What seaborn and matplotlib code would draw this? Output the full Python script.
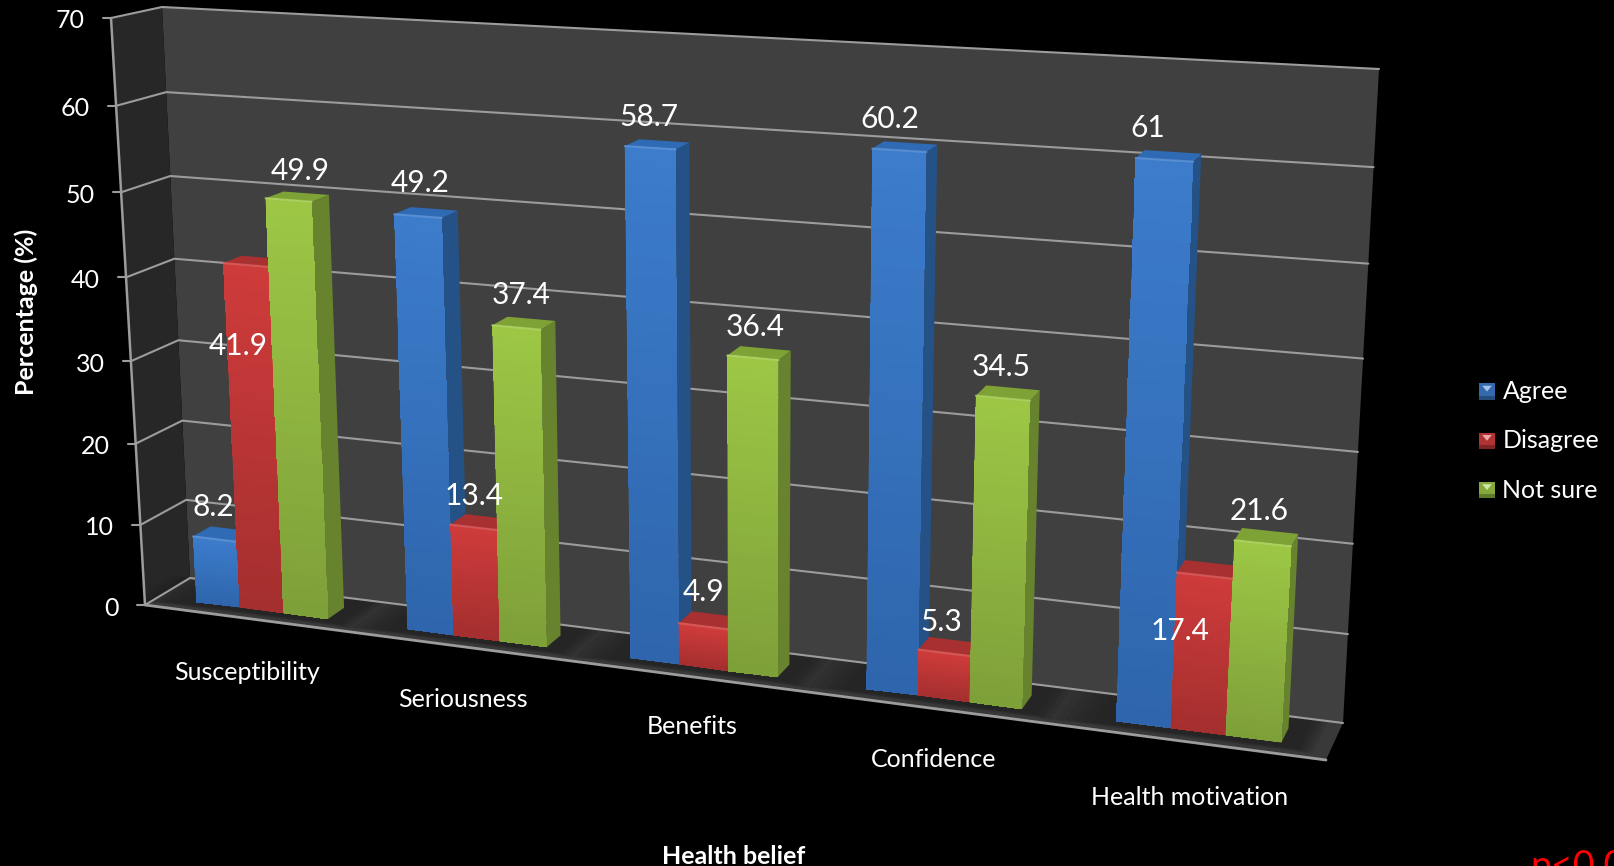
import numpy as np
import pandas as pd
import matplotlib
matplotlib.use("Agg")
import matplotlib.pyplot as plt
import seaborn as sns
from matplotlib.colors import LinearSegmentedColormap, to_rgb
from matplotlib.legend_handler import HandlerBase
from matplotlib.patches import Polygon, Rectangle
from matplotlib.transforms import IdentityTransform, Transform

# Survey results
beliefs = ["Susceptibility", "Seriousness", "Benefits", "Confidence", "Health motivation"]
responses = ["Agree", "Disagree", "Not sure"]
agree = [8.2, 49.2, 58.7, 60.2, 61]
disagree = [41.9, 13.4, 4.9, 5.3, 17.4]
not_sure = [49.9, 37.4, 36.4, 34.5, 21.6]
y_ticks = [0, 10, 20, 30, 40, 50, 60, 70]

W, H = 1614, 866
FONT = "Lato"
FS = 18

front_colors = {"Agree": ("#2E65AB", "#3C7CCC"), "Disagree": ("#A32F2E", "#CF3B3B"), "Not sure": ("#7E9F39", "#9DC745")}
side_colors = {"Agree": "#245186", "Disagree": "#8A2A28", "Not sure": "#67832E"}
top_colors = {"Agree": "#2F6AB5", "Disagree": "#A83030", "Not sure": "#7EA236"}


def homography(corners):
    """Map (u, z) in [0, 5] x [0, 70] onto the given quadrilateral (pixel coordinates)."""
    src = [(0, 0), (5, 0), (5, 70), (0, 70)]
    A, b = [], []
    for (u, z), (px, py) in zip(src, corners):
        A.append([u, z, 1, 0, 0, 0, -u * px, -z * px]); b.append(px)
        A.append([0, 0, 0, u, z, 1, -u * py, -z * py]); b.append(py)
    return np.append(np.linalg.solve(np.array(A, float), np.array(b, float)), 1).reshape(3, 3)


BACK = homography([(190, 578), (1343, 723), (1379, 69), (162, 7)])
FRONT = homography([(145, 605), (1326, 760), (1363, 88), (111, 18)])


def plane(M, u, z):
    p = M @ np.vstack([u, z, np.ones_like(u)])
    return (p[:2] / p[2]).T


def scene(u, d, z):
    """Pixel position of a chart-space point; d runs from the front (0) to the back wall (1)."""
    u, z = np.atleast_1d(u).astype(float), np.atleast_1d(z).astype(float)
    u, z = np.broadcast_arrays(u, z)
    return (1 - d) * plane(FRONT, u, z) + d * plane(BACK, u, z)


def to_display(pix):
    return np.column_stack([pix[:, 0], H - pix[:, 1]])


class SceneTransform(Transform):
    """Category/value data coordinates on a plane at fixed depth, to display space."""
    input_dims = output_dims = 2
    has_inverse = False

    def __init__(self, plane_depth):
        super().__init__()
        self.plane_depth = plane_depth

    def transform_non_affine(self, values):
        values = np.asarray(values, float)
        return to_display(scene(values[:, 0] + 0.5, self.plane_depth, values[:, 1]))


class BevelHandler(HandlerBase):
    """Legend swatch: a square with a light wedge on top and a dark band below."""

    def create_artists(self, legend, orig, x0, y0, w, h, fs, trans):
        c = np.array(orig.get_facecolor()[:3])
        s = Rectangle((x0, y0), w, h, facecolor=tuple(c * 0.85), linewidth=0, transform=trans)
        low = Rectangle((x0, y0), w, h * 0.25, facecolor=tuple(c * 0.62), linewidth=0, transform=trans)
        wedge = Polygon([(x0 + w * 0.2, y0 + h * 0.85), (x0 + w * 0.8, y0 + h * 0.85), (x0 + w * 0.5, y0 + h * 0.5)],
                        facecolor=tuple(c * 0.45 + 0.55), linewidth=0, transform=trans)
        return [s, low, wedge]


sns.set_theme(style="dark", rc={"figure.facecolor": "black", "axes.facecolor": "black"})
plt.rcParams["font.family"] = [FONT, "DejaVu Sans"]

df = pd.DataFrame({
    "belief": np.tile(beliefs, 3),
    "response": np.repeat(responses, 5),
    "pct": agree + disagree + not_sure,
})

fig = plt.figure(figsize=(W / 100, H / 100), dpi=100, facecolor="black")
ax = fig.add_axes([0, 0, 1, 1])
ID = IdentityTransform()


def poly(points, color, z=1, alpha=None):
    ax.add_patch(Polygon(to_display(np.asarray(points)), closed=True, facecolor=color, edgecolor="none",
                         transform=ID, zorder=z, alpha=alpha, clip_on=False))


def line(points, z=2, lw=1.5, color="#9C9C9C", alpha=None):
    pts = to_display(np.asarray(points))
    ax.plot(pts[:, 0], pts[:, 1], color=color, lw=lw, transform=ID, zorder=z, clip_on=False,
            solid_capstyle="round", alpha=alpha)


def quad(u0, u1, d0, d1, z0, z1):
    """Corner list helper for faces of the box."""
    return np.vstack([scene(u0, d0, z0), scene(u1, d0, z0), scene(u1, d1, z1), scene(u0, d1, z1)])


# Chart box: back wall, left wall and floor
poly(quad(0, 5, 1, 1, 0, 70), "#404040")
poly(np.vstack([scene(0, 0, 0), scene(0, 1, 0), scene(0, 1, 70), scene(0, 0, 70)]), "#272727")
poly(np.vstack([scene(0, 0, 0), scene(5, 0, 0), scene(5, 1, 0), scene(0, 1, 0)]), "#393939")

# Soft shade on the floor around each group
for i in range(5):
    for grow in np.linspace(0.22, 0.02, 7):
        poly(quad(i + 0.12 - grow, i + 0.88 + grow * 0.3, 0.2 - grow * 0.4, 1.0, 0, 0), "#101010", z=1.2, alpha=0.08)

# Gridlines on the walls and tick stubs
for v in y_ticks:
    line(np.vstack([scene(0, 0, v), scene(0, 1, v), scene(5, 1, v)]))
    fp = scene(0, 0, v)[0]
    line([fp + [-8, 0], fp])
    ax.text(*(to_display(fp[None])[0] + [-26, -3]), str(v), transform=ID, ha="right", va="center",
            color="white", fontsize=FS)
line(np.vstack([scene(0, 0, 0), scene(0, 0, 70)]), lw=1.8)
line(np.vstack([scene(0, 0, 0), scene(5, 0, 0)]), lw=2.0, z=1.5)

# Bars: seaborn lays out the front faces, each gets depth faces from its own values
D0, D1 = 0.30, 0.69
front_tf = SceneTransform(D0)
palette = {r: front_colors[r][1] for r in responses}
sns.barplot(data=df, x="belief", y="pct", hue="response", order=beliefs, hue_order=responses,
            palette=palette, width=0.63, saturation=1, linewidth=0, ax=ax, legend=True)

bars = [p for p in ax.patches if isinstance(p, Rectangle) and p.get_height() > 0]
ordered = sorted(bars, key=lambda p: p.get_x())
cols = len(responses)
for n, bar in enumerate(ordered):
    resp = responses[n % cols]
    z = 10 + n
    x0, x1, h = bar.get_x(), bar.get_x() + bar.get_width(), bar.get_height()
    u0, u1 = x0 + 0.5, x1 + 0.5
    bar.set_transform(front_tf)
    bar.set_zorder(z + 0.5)
    bar.set_clip_on(False)
    # side and top faces
    poly(np.vstack([scene(u1, D0, 0), scene(u1, D1, 0), scene(u1, D1, h), scene(u1, D0, h)]),
         side_colors[resp], z=z + 0.2)
    poly(np.vstack([scene(u0, D0, h), scene(u1, D0, h), scene(u1, D1, h), scene(u0, D1, h)]),
         top_colors[resp], z=z + 0.3)
    # vertical shading across the front face
    cmap = LinearSegmentedColormap.from_list(resp, front_colors[resp])
    ys = np.linspace(0, h, 30)
    ax.pcolormesh([x0, x1], ys, ((ys[:-1] + ys[1:]) / 2 / h)[:, None], cmap=cmap, vmin=0, vmax=1,
                  transform=front_tf, zorder=z + 0.6, clip_on=False, shading="flat")
    # light rim along the upper edge of the front face
    rim = tuple(np.array(to_rgb(front_colors[resp][1])) * 0.8 + 0.2)
    line(np.vstack([scene(u0, D0, h), scene(u1, D0, h)]), z=z + 0.7, lw=1.6, color=rim, alpha=0.7)

# Value labels sit above their bars, a few are pulled down onto the bars themselves
nudges = {
    (0, 0): (-1, -32), (0, 1): (-8, 81), (0, 2): (12, -29),
    (1, 0): (2, -33), (1, 1): (0, -31), (1, 2): (5, -32),
    (2, 0): (-1, -31), (2, 1): (0, -34), (2, 2): (2, -31),
    (3, 0): (-9, -31), (3, 1): (-3, -31), (3, 2): (-2, -31),
    (4, 0): (-17, -32), (4, 1): (-25, 55), (4, 2): (-4, -32),
}
for n, bar in enumerate(ordered):
    cat, resp = n // cols, n % cols
    p = scene(bar.get_x() + bar.get_width() / 2 + 0.5, D0, bar.get_height())[0] + nudges[(cat, resp)]
    label = f"{bar.get_height():g}"
    ax.text(*to_display(p[None])[0], label, transform=ID, ha="center", va="center", color="white",
            fontsize=21.5, zorder=60)

# Category labels under the floor edge
label_drop = [54, 52, 49, 51, 55]
for i, name in enumerate(beliefs):
    p = scene(i + 0.5, 0, 0)[0] + [-2, label_drop[i]]
    ax.text(*to_display(p[None])[0], name, transform=ID, ha="center", va="center", color="white", fontsize=FS)

fig.text(734 / W, 1 - 856 / H, "Health belief", ha="center", va="center", color="white", fontsize=18,
         fontweight="bold")
fig.text(26 / W, 1 - 312 / H, "Percentage (%)", ha="center", va="center", rotation=90, color="white",
         fontsize=18, fontweight="bold")
fig.text(1530 / W, 1 - 878 / H, "p<0.05", ha="left", va="baseline", color="#FF0000", fontsize=27)

sns.move_legend(ax, loc="center left", bbox_to_anchor=(1479 / W, 1 - 441 / H), bbox_transform=fig.transFigure,
                frameon=False, title=None, labelcolor="white", fontsize=FS, handlelength=0.64, handleheight=0.64,
                handletextpad=0.3, labelspacing=1.05, borderpad=0, borderaxespad=0,
                handler_map={Rectangle: BevelHandler()})

ax.set_xlim(-0.5, 4.5)
ax.set_ylim(0, 70)
ax.axis("off")
fig.savefig("out.png", dpi=100, facecolor="black")
